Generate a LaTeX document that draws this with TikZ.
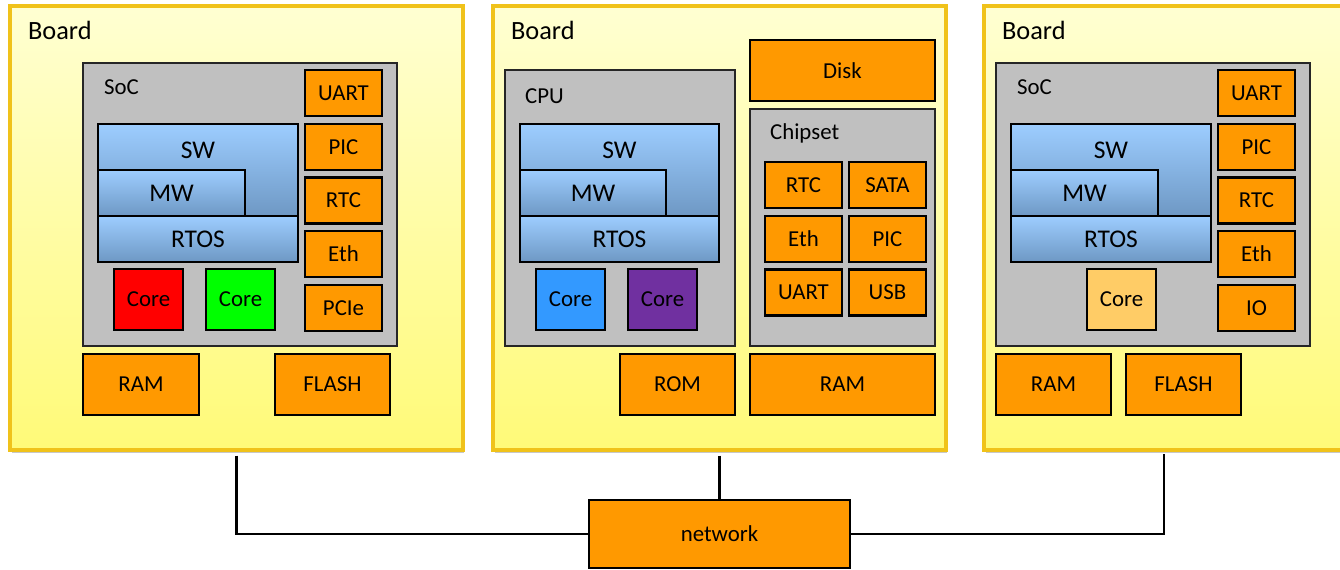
\documentclass[tikz,border=0pt]{standalone}
\usepackage{fontspec}
\setmainfont{Carlito}
\usepackage{xcolor}
\usepackage{tikz}
\usetikzlibrary{shadows}
\usetikzlibrary{positioning}

\definecolor{boardedge}{HTML}{F0C21A}
\definecolor{boardtop}{HTML}{FFFFD2}
\definecolor{boardbot}{HTML}{FFFA78}
\definecolor{chipgray}{HTML}{C0C0C0}
\definecolor{partorange}{HTML}{FF9900}
\definecolor{layertop}{HTML}{9DCDFF}
\definecolor{layerbot}{HTML}{6E98C4}
\definecolor{corered}{HTML}{FF0000}
\definecolor{coregreen}{HTML}{00FF00}
\definecolor{coreblue}{HTML}{3399FF}
\definecolor{corepurple}{HTML}{7030A0}
\definecolor{corepeach}{HTML}{FFCC66}

\begin{document}
\begin{tikzpicture}[
    x=0.02cm, y=-0.02cm,
    every node/.style={inner sep=0pt, line width=1.25pt},
    board/.style={draw=boardedge, line width=1.9pt, top color=boardtop, bottom color=boardbot,
      minimum width=9.06cm, minimum height=8.88cm,
      drop shadow={shadow xshift=0.03cm, shadow yshift=-0.07cm, fill=black!55, opacity=0.4}},
    chip/.style={draw=black!85, fill=chipgray},
    part/.style={draw, fill=partorange, minimum width=1.54cm, minimum height=0.92cm,
      font=\fontsize{13}{15}\selectfont},
    mem/.style={part, minimum height=1.22cm},
    layer/.style={draw, top color=layertop, bottom color=layerbot, minimum height=0.92cm,
      font=\fontsize{14.5}{17}\selectfont},
    swlabel/.style={anchor=center, yshift=-0.54cm, font=\fontsize{14.5}{17}\selectfont},
    core/.style={draw, minimum width=1.38cm, minimum height=1.22cm, font=\fontsize{13}{15}\selectfont},
    boardname/.style={anchor=west, font=\fontsize{15}{18}\selectfont},
    chipname/.style={anchor=west, font=\fontsize{13}{15}\selectfont},
    wire/.style={draw, line width=1.25pt},
  ]

  \path[use as bounding box, clip] (0,0) rectangle (1340,569);

  % left board: SoC with two cores
  \node[board] (board1) at (236.5,228) {};
  \node[boardname] (board1name) at (27,30) {Board};
  \node[chip, minimum width=6.28cm, minimum height=5.66cm] (soc1) at (240,204.5) {};
  \node[chipname] (soc1name) at (103,87) {SoC};
  \node[part] (uart1) at (343.5,93)  {UART};
  \node[part] (pic1)  at (343.5,147) {PIC};
  \node[part] (rtc1)  at (343.5,200.5) {RTC};
  \node[part] (eth1)  at (343.5,254) {Eth};
  \node[part] (pcie1) at (343.5,308) {PCIe};
  \node[layer, minimum width=4cm, minimum height=1.84cm, label={[swlabel]north:SW}] (sw1) at (198,170) {};
  \node[layer, minimum width=2.94cm] (mw1) at (171.5,193) {MW};
  \node[layer, minimum width=4cm] (rtos1) at (198,239) {RTOS};
  \node[core, fill=corered]   (core1a) at (148.5,299.5) {Core};
  \node[core, fill=coregreen] (core1b) at (240.5,299.5) {Core};
  \node[mem, minimum width=2.32cm] (ram1)   at (141,384.5)   {RAM};
  \node[mem, minimum width=2.30cm] (flash1) at (332.5,384.5) {FLASH};

  % middle board: CPU, chipset and disk
  \node[board] (board2) at (719.5,228) {};
  \node[boardname] (board2name) at (510,30) {Board};
  \node[chip, minimum width=4.6cm, minimum height=5.52cm] (cpu2) at (620,208) {};
  \node[chipname] (cpu2name) at (524,96) {CPU};
  \node[layer, minimum width=3.98cm, minimum height=1.84cm, label={[swlabel]north:SW}] (sw2) at (619.5,170) {};
  \node[layer, minimum width=2.92cm] (mw2) at (593,193) {MW};
  \node[layer, minimum width=3.98cm] (rtos2) at (619.5,239) {RTOS};
  \node[core, fill=coreblue]   (core2a) at (570.5,299.5) {Core};
  \node[core, fill=corepurple] (core2b) at (662.5,299.5) {Core};
  \node[mem, minimum width=3.7cm] (disk2) at (842.5,70.5) {Disk};
  \node[chip, minimum width=3.7cm, minimum height=4.74cm] (chipset2) at (842.5,227.5) {};
  \node[chipname] (chipset2name) at (769,133) {Chipset};
  \node[part] (rtc2)  at (803.5,185)   {RTC};
  \node[part] (sata2) at (887.5,185)   {SATA};
  \node[part] (eth2)  at (803.5,239)   {Eth};
  \node[part] (pic2)  at (887.5,239)   {PIC};
  \node[part] (uart2) at (803.5,292.5) {UART};
  \node[part] (usb2)  at (887.5,292.5) {USB};
  \node[mem, minimum width=2.30cm] (rom2) at (677.5,384.5) {ROM};
  \node[mem, minimum width=3.7cm]  (ram2) at (842.5,384.5) {RAM};

  % right board: SoC with one core
  \node[board] (board3) at (1210.5,228) {};
  \node[boardname] (board3name) at (1001,30) {Board};
  \node[chip, minimum width=6.28cm, minimum height=5.66cm] (soc3) at (1153,204.5) {};
  \node[chipname] (soc3name) at (1016,87) {SoC};
  \node[part] (uart3) at (1256.5,93)  {UART};
  \node[part] (pic3)  at (1256.5,147) {PIC};
  \node[part] (rtc3)  at (1256.5,200.5) {RTC};
  \node[part] (eth3)  at (1256.5,254) {Eth};
  \node[part] (io3)   at (1256.5,308) {IO};
  \node[layer, minimum width=4cm, minimum height=1.84cm, label={[swlabel]north:SW}] (sw3) at (1111,170) {};
  \node[layer, minimum width=2.94cm] (mw3) at (1084.5,193) {MW};
  \node[layer, minimum width=4cm] (rtos3) at (1111,239) {RTOS};
  \node[core, fill=corepeach] (core3) at (1121.5,299.5) {Core};
  \node[mem, minimum width=2.30cm] (ram3)   at (1053.5,384.5) {RAM};
  \node[mem, minimum width=2.30cm] (flash3) at (1183.5,384.5) {FLASH};

  % network and its links
  \node[mem, minimum width=5.22cm, minimum height=1.36cm] (net) at (719.5,534) {network};
  \coordinate (board3tap) at (1164,450);

  \draw[wire, shorten <=0.08cm] (board1.south) |- (net.west);
  \draw[wire, shorten <=0.08cm] (board2.south) -- (net.north);
  \draw[wire, shorten <=0.08cm] (board3tap) |- (net.east);

\end{tikzpicture}
\end{document}
